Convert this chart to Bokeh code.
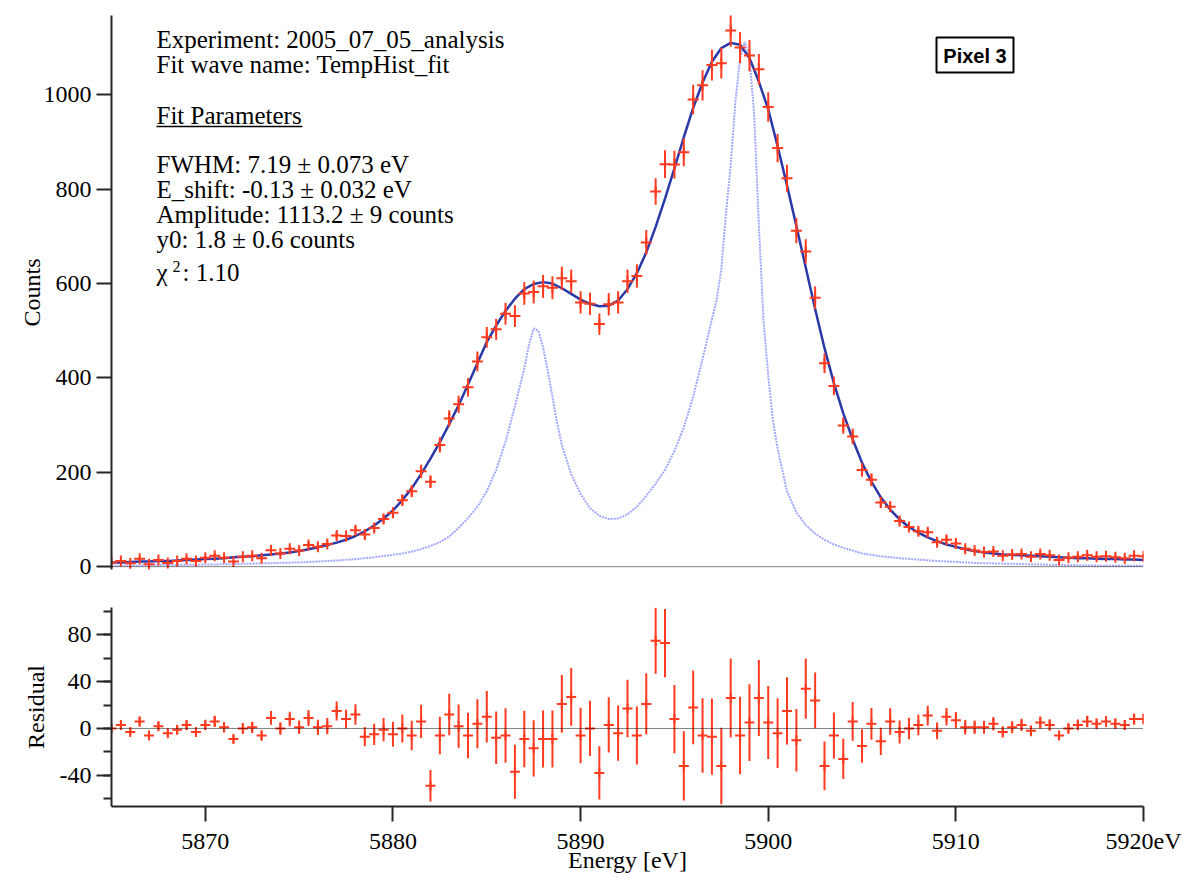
from bokeh.plotting import figure
from bokeh.layouts import column
from bokeh.models import Range1d, FixedTicker, Span, Label, BoxAnnotation
from bokeh.embed import file_html
from bokeh.resources import INLINE

# ---------------- data ----------------
energy = [
    5865.0, 5865.5, 5866.0, 5866.5, 5867.0, 5867.5, 5868.0, 5868.5, 5869.0, 5869.5,
    5870.0, 5870.5, 5871.0, 5871.5, 5872.0, 5872.5, 5873.0, 5873.5, 5874.0, 5874.5,
    5875.0, 5875.5, 5876.0, 5876.5, 5877.0, 5877.5, 5878.0, 5878.5, 5879.0, 5879.5,
    5880.0, 5880.5, 5881.0, 5881.5, 5882.0, 5882.5, 5883.0, 5883.5, 5884.0, 5884.5,
    5885.0, 5885.5, 5886.0, 5886.5, 5887.0, 5887.5, 5888.0, 5888.5, 5889.0, 5889.5,
    5890.0, 5890.5, 5891.0, 5891.5, 5892.0, 5892.5, 5893.0, 5893.5, 5894.0, 5894.5,
    5895.0, 5895.5, 5896.0, 5896.5, 5897.0, 5897.5, 5898.0, 5898.5, 5899.0, 5899.5,
    5900.0, 5900.5, 5901.0, 5901.5, 5902.0, 5902.5, 5903.0, 5903.5, 5904.0, 5904.5,
    5905.0, 5905.5, 5906.0, 5906.5, 5907.0, 5907.5, 5908.0, 5908.5, 5909.0, 5909.5,
    5910.0, 5910.5, 5911.0, 5911.5, 5912.0, 5912.5, 5913.0, 5913.5, 5914.0, 5914.5,
    5915.0, 5915.5, 5916.0, 5916.5, 5917.0, 5917.5, 5918.0, 5918.5, 5919.0, 5919.5,
    5920.0]

counts = [
    9, 12, 7, 17, 5, 14, 8, 12, 17, 12,
    19, 23, 19, 11, 21, 23, 18, 35, 28, 38,
    34, 46, 42, 48, 66, 65, 77, 68, 82, 101,
    114, 141, 160, 202, 180, 258, 314, 344, 380, 435,
    486, 503, 536, 531, 579, 582, 594, 591, 611, 605,
    560, 557, 514, 556, 560, 605, 616, 687, 795, 853,
    852, 878, 990, 1020, 1063, 1067, 1136, 1100, 1083, 1054,
    974, 887, 823, 712, 668, 570, 431, 383, 299, 276,
    205, 184, 136, 127, 97, 84, 75, 73, 52, 57,
    49, 38, 34, 31, 32, 23, 26, 27, 21, 27,
    24, 14, 19, 21, 24, 21, 22, 20, 18, 23,
    22]

count_err = [
    3.0, 3.5, 2.6, 4.1, 2.2, 3.7, 2.8, 3.5, 4.1, 3.5,
    4.4, 4.8, 4.4, 3.3, 4.6, 4.8, 4.2, 5.9, 5.3, 6.2,
    5.8, 6.8, 6.5, 6.9, 8.1, 8.1, 8.8, 8.2, 9.1, 10.0,
    10.7, 11.9, 12.6, 14.2, 13.4, 16.1, 17.7, 18.5, 19.5, 20.9,
    22.0, 22.4, 23.2, 23.0, 24.1, 24.1, 24.4, 24.3, 24.7, 24.6,
    23.7, 23.6, 22.7, 23.6, 23.7, 24.6, 24.8, 26.2, 28.2, 29.2,
    29.2, 29.6, 31.5, 31.9, 32.6, 32.7, 33.7, 33.2, 32.9, 32.5,
    31.2, 29.8, 28.7, 26.7, 25.8, 23.9, 20.8, 19.6, 17.3, 16.6,
    14.3, 13.6, 11.7, 11.3, 9.8, 9.2, 8.7, 8.5, 7.2, 7.5,
    7.0, 6.2, 5.8, 5.6, 5.7, 4.8, 5.1, 5.2, 4.6, 5.2,
    4.9, 3.7, 4.4, 4.6, 4.9, 4.6, 4.7, 4.5, 4.2, 4.8,
    4.7]

fit_counts = [
    9, 9, 10, 11, 11, 12, 12, 13, 14, 15,
    16, 17, 18, 20, 21, 22, 24, 26, 28, 30,
    33, 37, 41, 46, 51, 57, 65, 75, 87, 102,
    119, 141, 166, 196, 229, 264, 302, 342, 386, 431,
    476, 511, 542, 568, 588, 599, 603, 600, 590, 578,
    566, 557, 552, 553, 564, 588, 622, 666, 720, 780,
    844, 910, 972, 1026, 1070, 1099, 1110, 1106, 1078, 1028,
    969, 891, 808, 722, 634, 546, 463, 389, 325, 270,
    220, 180, 147, 121, 100, 84, 72, 62, 54, 47,
    42, 37, 33, 30, 28, 26, 25, 24, 23, 22,
    21, 20, 19, 18, 18, 17, 16, 16, 15, 15,
    14]

residual = [
    0, 3, -3, 6, -6, 2, -4, -1, 3, -3,
    3, 6, 1, -9, 0, 1, -6, 9, 0, 8,
    1, 9, 1, 2, 15, 8, 12, -7, -5, -1,
    -5, 0, -6, 6, -49, -6, 12, 2, -6, 4,
    10, -8, -6, -37, -9, -17, -9, -9, 21, 27,
    -6, 0, -38, 3, -4, 17, -6, 21, 75, 73,
    8, -32, 18, -6, -7, -32, 26, -6, 5, 26,
    5, -4, 15, -10, 34, 24, -32, -6, -26, 6,
    -15, 4, -11, 6, -3, 0, 3, 11, -2, 10,
    7, 1, 1, 1, 4, -3, 1, 3, -2, 5,
    3, -6, 0, 3, 6, 4, 6, 4, 3, 8,
    8]

# intrinsic line shape (light blue dotted curve)
shape_energy = [
    5865.0, 5867.0, 5869.0, 5871.0, 5873.0, 5875.0, 5876.0, 5877.0, 5878.0, 5879.0,
    5880.0, 5880.5, 5881.0, 5881.5, 5882.0, 5882.5, 5883.0, 5883.5, 5884.0, 5884.5,
    5885.0, 5885.5, 5886.0, 5886.5, 5887.0, 5887.25, 5887.5, 5887.75, 5888.0, 5888.25,
    5888.5, 5888.75, 5889.0, 5889.5, 5890.0, 5890.5, 5891.0, 5891.5, 5892.0, 5892.5,
    5893.0, 5893.5, 5894.0, 5894.5, 5895.0, 5895.5, 5896.0, 5896.5, 5897.0, 5897.25,
    5897.5, 5897.75, 5898.0, 5898.25, 5898.5, 5898.75, 5899.0, 5899.25, 5899.5, 5899.75,
    5900.0, 5900.25, 5900.5, 5901.0, 5901.5, 5902.0, 5902.5, 5903.0, 5903.5, 5904.0,
    5904.5, 5905.0, 5906.0, 5907.0, 5908.0, 5909.0, 5910.0, 5911.0, 5912.0, 5914.0,
    5916.0, 5918.0, 5920.0]
shape_counts = [
    2, 3, 4, 5, 7, 9, 11, 13, 16, 20,
    25, 28, 32, 37, 44, 52, 64, 82, 103, 127,
    160, 205, 265, 340, 420, 470, 505, 500, 465, 415,
    360, 305, 258, 196, 154, 124, 108, 101, 102, 111,
    127, 150, 176, 205, 245, 295, 360, 440, 525, 565,
    630, 750, 850, 985, 1078, 1112, 1080, 960, 725, 520,
    405, 310, 250, 160, 115, 88, 70, 57, 47, 40,
    34, 28, 22, 18, 15, 12, 10, 8, 7, 5,
    3, 2, 2]

count_ticks = [0, 200, 400, 600, 800, 1000]
resid_ticks = [-40, 0, 40, 80]
resid_minor = [-60, -20, 20, 60, 100]
energy_ticks = [5870, 5880, 5890, 5900, 5910, 5920]

info_lines = [
    "Experiment: 2005_07_05_analysis",
    "Fit wave name: TempHist_fit",
    "Fit Parameters",
    "FWHM: 7.19 \u00b1 0.073 eV",
    "E_shift: -0.13 \u00b1 0.032 eV",
    "Amplitude: 1113.2 \u00b1 9 counts",
    "y0: 1.8 \u00b1 0.6 counts",
]

# ---------------- styling / layout ----------------
RED = "#ff3a1f"
BLUE = "#2a38a8"
LIGHT = "#9096ff"
AXC = "#262626"
SERIF = "Liberation Serif"
FS = "24px"
TFS = "25px"

W = 1201
FRAME_L, FRAME_R = 111, 58
X0, X1 = 5865.0, 5920.0
FRAME_W = W - FRAME_L - FRAME_R

TOP_H, TOP_T, TOP_B = 589, 15, 20
Y0, Y1 = -6.0, 1168.0
FRAME_H = TOP_H - TOP_T - TOP_B

BOT_H, BOT_T, BOT_B = 877 - TOP_H, 18, 71
RY0, RY1 = -66.7, 103.4


def dx(sx):
    return X0 + (sx - FRAME_L) / FRAME_W * (X1 - X0)


def dy(sy):
    return Y1 - (sy - TOP_T) / FRAME_H * (Y1 - Y0)


xr = Range1d(X0, X1)


def style_axis(ax):
    ax.axis_line_color = AXC
    ax.axis_line_width = 2
    ax.major_tick_line_color = AXC
    ax.major_tick_line_width = 2
    ax.minor_tick_line_color = AXC
    ax.minor_tick_line_width = 2
    ax.major_tick_in = 0
    ax.minor_tick_in = 0
    ax.major_label_text_font = SERIF
    ax.major_label_text_font_size = FS
    ax.major_label_text_color = "black"
    ax.axis_label_text_font = SERIF
    ax.axis_label_text_font_size = FS
    ax.axis_label_text_font_style = "normal"
    ax.axis_label_text_color = "black"


p = figure(width=W, height=TOP_H, x_range=xr, y_range=Range1d(Y0, Y1),
           output_backend="svg", toolbar_location=None, x_axis_location=None,
           min_border_left=FRAME_L, min_border_right=FRAME_R,
           min_border_top=TOP_T, min_border_bottom=TOP_B)
p.outline_line_color = None
p.grid.visible = False
style_axis(p.yaxis[0])
p.yaxis.ticker = FixedTicker(ticks=count_ticks)
p.yaxis.major_tick_out = 15
p.yaxis.major_label_standoff = 5
p.yaxis.axis_label = "Counts"
p.yaxis.axis_label_standoff = -4

p.add_layout(Span(location=0, dimension="width", line_color="black",
                  line_dash="1 1", line_width=1))

p.line(shape_energy, shape_counts, line_color=LIGHT, line_width=2, line_dash="2 1",
       line_alpha=0.85)
p.line(energy, fit_counts, line_color=BLUE, line_width=2.5)

lo = [c - e for c, e in zip(counts, count_err)]
hi = [c + e for c, e in zip(counts, count_err)]
p.segment(x0=energy, y0=lo, x1=energy, y1=hi, line_color=RED, line_width=2)
p.scatter(energy, counts, marker="cross", size=11, line_color=RED, line_width=2)

# text block (vertical centres of the capitals, in page pixels)
centres = [39, 64, 115, 164, 189, 214, 239]
for txt, c in zip(info_lines, centres):
    p.add_layout(Label(x=dx(156), y=dy(c), text=txt, text_font=SERIF,
                       text_font_size=TFS, text_color="black",
                       text_baseline="middle"))
p.segment(x0=[dx(156)], y0=[dy(126)], x1=[dx(302)], y1=[dy(126)],
          line_color="black", line_width=1.5)
p.add_layout(Label(x=dx(156), y=dy(272), text="\u03c7", text_font=SERIF,
                   text_color="black", text_font_size=TFS, text_baseline="middle"))
p.add_layout(Label(x=dx(172), y=dy(266), text="2", text_font=SERIF,
                   text_color="black", text_font_size="16px", text_baseline="middle"))
p.add_layout(Label(x=dx(182), y=dy(272), text=": 1.10", text_font=SERIF,
                   text_color="black", text_font_size=TFS, text_baseline="middle"))

# "Pixel 3" boxed tag
p.add_layout(BoxAnnotation(left=dx(936), right=dx(1013), top=dy(37), bottom=dy(72),
                           fill_color="white", fill_alpha=1.0,
                           line_color="black", line_alpha=1.0, line_width=2))
p.add_layout(Label(x=dx(974.5), y=dy(55), text="Pixel 3", text_font="Liberation Sans",
                   text_font_style="bold", text_font_size="20px", text_color="black",
                   text_align="center", text_baseline="middle"))

# residual panel
p2 = figure(width=W, height=BOT_H, x_range=xr, y_range=Range1d(RY0, RY1),
            output_backend="svg", toolbar_location=None,
            min_border_left=FRAME_L, min_border_right=FRAME_R,
            min_border_top=BOT_T, min_border_bottom=BOT_B)
p2.outline_line_color = None
p2.grid.visible = False
style_axis(p2.yaxis[0])
style_axis(p2.xaxis[0])
p2.yaxis.ticker = FixedTicker(ticks=resid_ticks, minor_ticks=resid_minor + resid_ticks)
p2.yaxis.major_label_overrides = {-40: "-40"}
p2.yaxis.major_tick_out = 15
p2.yaxis.minor_tick_out = 8
p2.yaxis.major_label_standoff = 5
p2.yaxis.axis_label = "Residual"
p2.yaxis.axis_label_standoff = 8
p2.xaxis.ticker = FixedTicker(ticks=energy_ticks)
p2.xaxis.major_label_overrides = {5920: "5920eV"}
p2.xaxis.major_tick_out = 15
p2.xaxis.major_label_standoff = 6
p2.xaxis.axis_label = "Energy [eV]"
p2.xaxis.axis_label_standoff = -10

p2.add_layout(Span(location=0, dimension="width", line_color="black",
                   line_dash="1 1", line_width=1))
rlo = [r - e for r, e in zip(residual, count_err)]
rhi = [r + e for r, e in zip(residual, count_err)]
p2.segment(x0=energy, y0=rlo, x1=energy, y1=rhi, line_color=RED, line_width=2)
p2.scatter(energy, residual, marker="cross", size=10, line_color=RED, line_width=2)

layout = column(p, p2, spacing=0)
open("out.html", "w").write(file_html(layout, INLINE))
